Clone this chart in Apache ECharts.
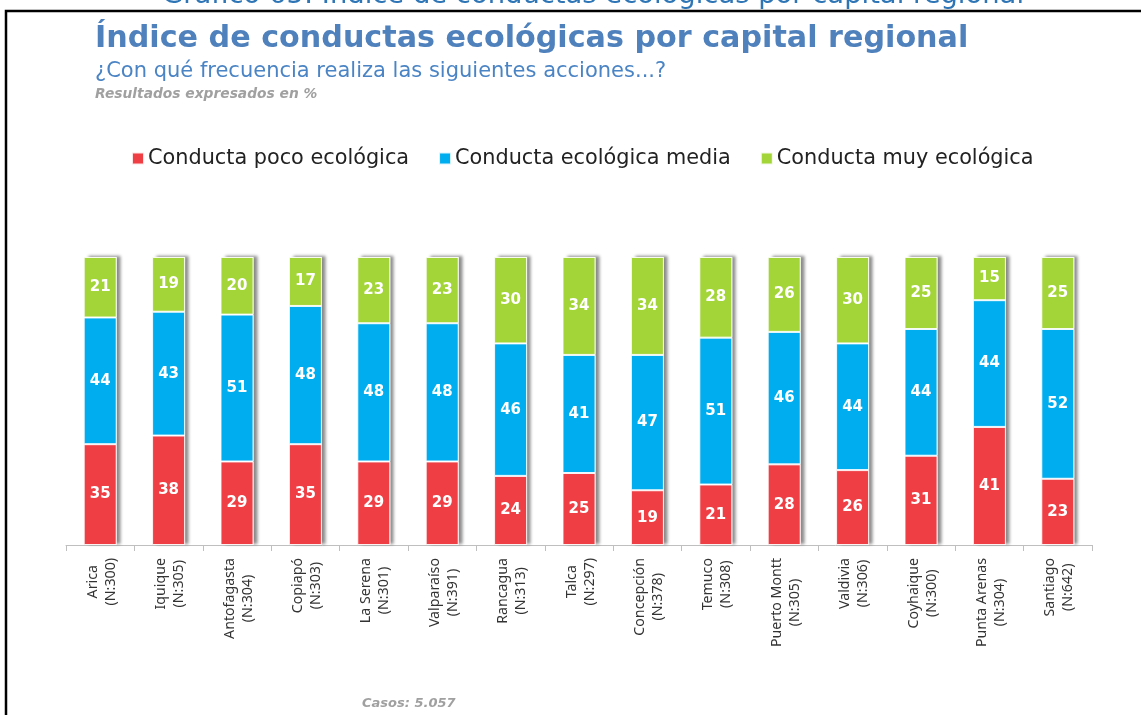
<!DOCTYPE html>
<html>
<head>
<meta charset="utf-8">
<style>
  html, body { margin: 0; padding: 0; background: #fff; }
  #chart { width: 1141px; height: 715px; }
</style>
<script src="https://cdn.jsdelivr.net/npm/echarts@6/dist/echarts.min.js"></script>
</head>
<body>
<div id="chart"></div>
<script>
const categories = ['Arica', 'Iquique', 'Antofagasta', 'Copiapó', 'La Serena', 'Valparaíso', 'Rancagua', 'Talca', 'Concepción', 'Temuco', 'Puerto Montt', 'Valdivia', 'Coyhaique', 'Punta Arenas', 'Santiago'];
const sampleSizes = [300, 305, 304, 303, 301, 391, 313, 297, 378, 308, 305, 306, 300, 304, 642];
const seriesNames = ['Conducta poco ecológica', 'Conducta ecológica media', 'Conducta muy ecológica'];
const pocoEcologica = [35, 38, 29, 35, 29, 29, 24, 25, 19, 21, 28, 26, 31, 41, 23];
const ecologicaMedia = [44, 43, 51, 48, 48, 48, 46, 41, 47, 51, 46, 44, 44, 44, 52];
const muyEcologica = [21, 19, 20, 17, 23, 23, 30, 34, 34, 28, 26, 30, 25, 15, 25];
const colors = ['#ef3e44', '#00adee', '#a4d538'];

const axisLabels = categories.map((c, i) => c + '\n(N:' + sampleSizes[i] + ')');
const totals = categories.map((c, i) => pocoEcologica[i] + ecologicaMedia[i] + muyEcologica[i]);

const LABEL_FONT = 14.2;
const LABEL_FAMILY = 'Noto Sans';
const mctx = document.createElement('canvas').getContext('2d');
mctx.font = LABEL_FONT + 'px "' + LABEL_FAMILY + '"';

const chart = echarts.init(document.getElementById('chart'), null, { renderer: 'canvas' });

function barSeries(name, data, color) {
  return {
    name: name,
    type: 'bar',
    stack: 'total',
    data: data,
    barWidth: 33,
    barGap: '-100%',
    z: 3,
    itemStyle: {
      color: color,
      borderColor: 'rgba(255,255,255,0.85)',
      borderWidth: 1
    },
    label: {
      show: true,
      position: 'inside',
      color: '#fff',
      fontFamily: 'DejaVu Sans',
      fontWeight: 'bold',
      fontSize: 15
    },
    emphasis: { disabled: true }
  };
}

const staticGraphics = [
  {
    id: 'toptitle',
    type: 'text',
    left: 162,
    top: -18,
    style: {
      text: 'Gráfico 65: Índice de conductas ecológicas por capital regional',
      fontFamily: 'DejaVu Sans',
      fontSize: 27.4,
      fill: '#2e75b6'
    }
  },
  {
    id: 'frame',
    type: 'rect',
    shape: { x: 6, y: 11, width: 1300, height: 900 },
    style: { fill: 'none', stroke: '#000', lineWidth: 2.5 },
    silent: true
  }
];

const option = {
  animation: false,
  backgroundColor: '#fff',
  title: [
    {
      text: 'Índice de conductas ecológicas por capital regional',
      left: 90, top: 19,
      textStyle: { fontFamily: 'DejaVu Sans', fontWeight: 'bold', fontSize: 30.2, color: '#4f81bd' }
    },
    {
      text: '¿Con qué frecuencia realiza las siguientes acciones...?',
      left: 90, top: 56,
      textStyle: { fontFamily: 'DejaVu Sans', fontWeight: 'normal', fontSize: 21, color: '#4a84c4' }
    },
    {
      text: 'Resultados expresados en %',
      left: 90, top: 82,
      textStyle: { fontFamily: 'DejaVu Sans', fontWeight: 'bold', fontStyle: 'italic', fontSize: 13.8, color: '#a0a0a0' }
    },
    {
      text: 'Casos: 5.057',
      left: 357, top: 692,
      textStyle: { fontFamily: 'DejaVu Sans', fontWeight: 'bold', fontStyle: 'italic', fontSize: 13, color: '#a0a0a0' }
    }
  ],
  graphic: { elements: staticGraphics },
  legend: {
    data: seriesNames,
    left: 131,
    top: 148,
    padding: 0,
    icon: 'rect',
    itemWidth: 12,
    itemHeight: 12,
    itemGap: 29,
    textStyle: { fontFamily: 'DejaVu Sans', fontSize: 20.8, color: '#222', padding: [0, 0, 0, -1] }
  },
  grid: { left: 66, right: 49, top: 257, bottom: 170, containLabel: false },
  xAxis: {
    type: 'category',
    data: axisLabels,
    axisLine: { lineStyle: { color: '#bfbfbf', width: 1 } },
    axisTick: { show: true, interval: 0, length: 6, lineStyle: { color: '#bfbfbf' } },
    axisLabel: { show: false, interval: 0 }
  },
  yAxis: { type: 'value', min: 0, max: 100, show: false },
  series: [
    {
      name: 'sombra',
      type: 'bar',
      data: totals,
      barWidth: 33,
      barGap: '-100%',
      z: 1,
      silent: true,
      itemStyle: {
        color: '#ffffff',
        shadowColor: 'rgba(0,0,0,0.45)',
        shadowBlur: 3,
        shadowOffsetX: 4,
        shadowOffsetY: -1
      },
      label: { show: false },
      emphasis: { disabled: true },
      tooltip: { show: false }
    },
    barSeries(seriesNames[0], pocoEcologica, colors[0]),
    barSeries(seriesNames[1], ecologicaMedia, colors[1]),
    barSeries(seriesNames[2], muyEcologica, colors[2])
  ]
};
chart.setOption(option);

// Category labels: rotated, two centred lines, positioned through the axis scale
const axisY = chart.convertToPixel({ yAxisIndex: 0 }, 0);
const labelGraphics = axisLabels.map((lbl, i) => {
  const x = chart.convertToPixel({ xAxisIndex: 0 }, i);
  const maxW = Math.max.apply(null, lbl.split('\n').map(l => mctx.measureText(l).width));
  return {
    id: 'xl' + i,
    type: 'text',
    x: x + 1.5,
    y: axisY + 13 + maxW / 2,
    rotation: Math.PI / 2,
    silent: true,
    style: {
      text: lbl,
      x: 0, y: 0,
      align: 'center',
      verticalAlign: 'middle',
      lineHeight: 18,
      fontFamily: LABEL_FAMILY,
      fontSize: LABEL_FONT,
      fill: '#333'
    }
  };
});
chart.setOption({ graphic: { elements: staticGraphics.concat(labelGraphics) } });
</script>
</body>
</html>
